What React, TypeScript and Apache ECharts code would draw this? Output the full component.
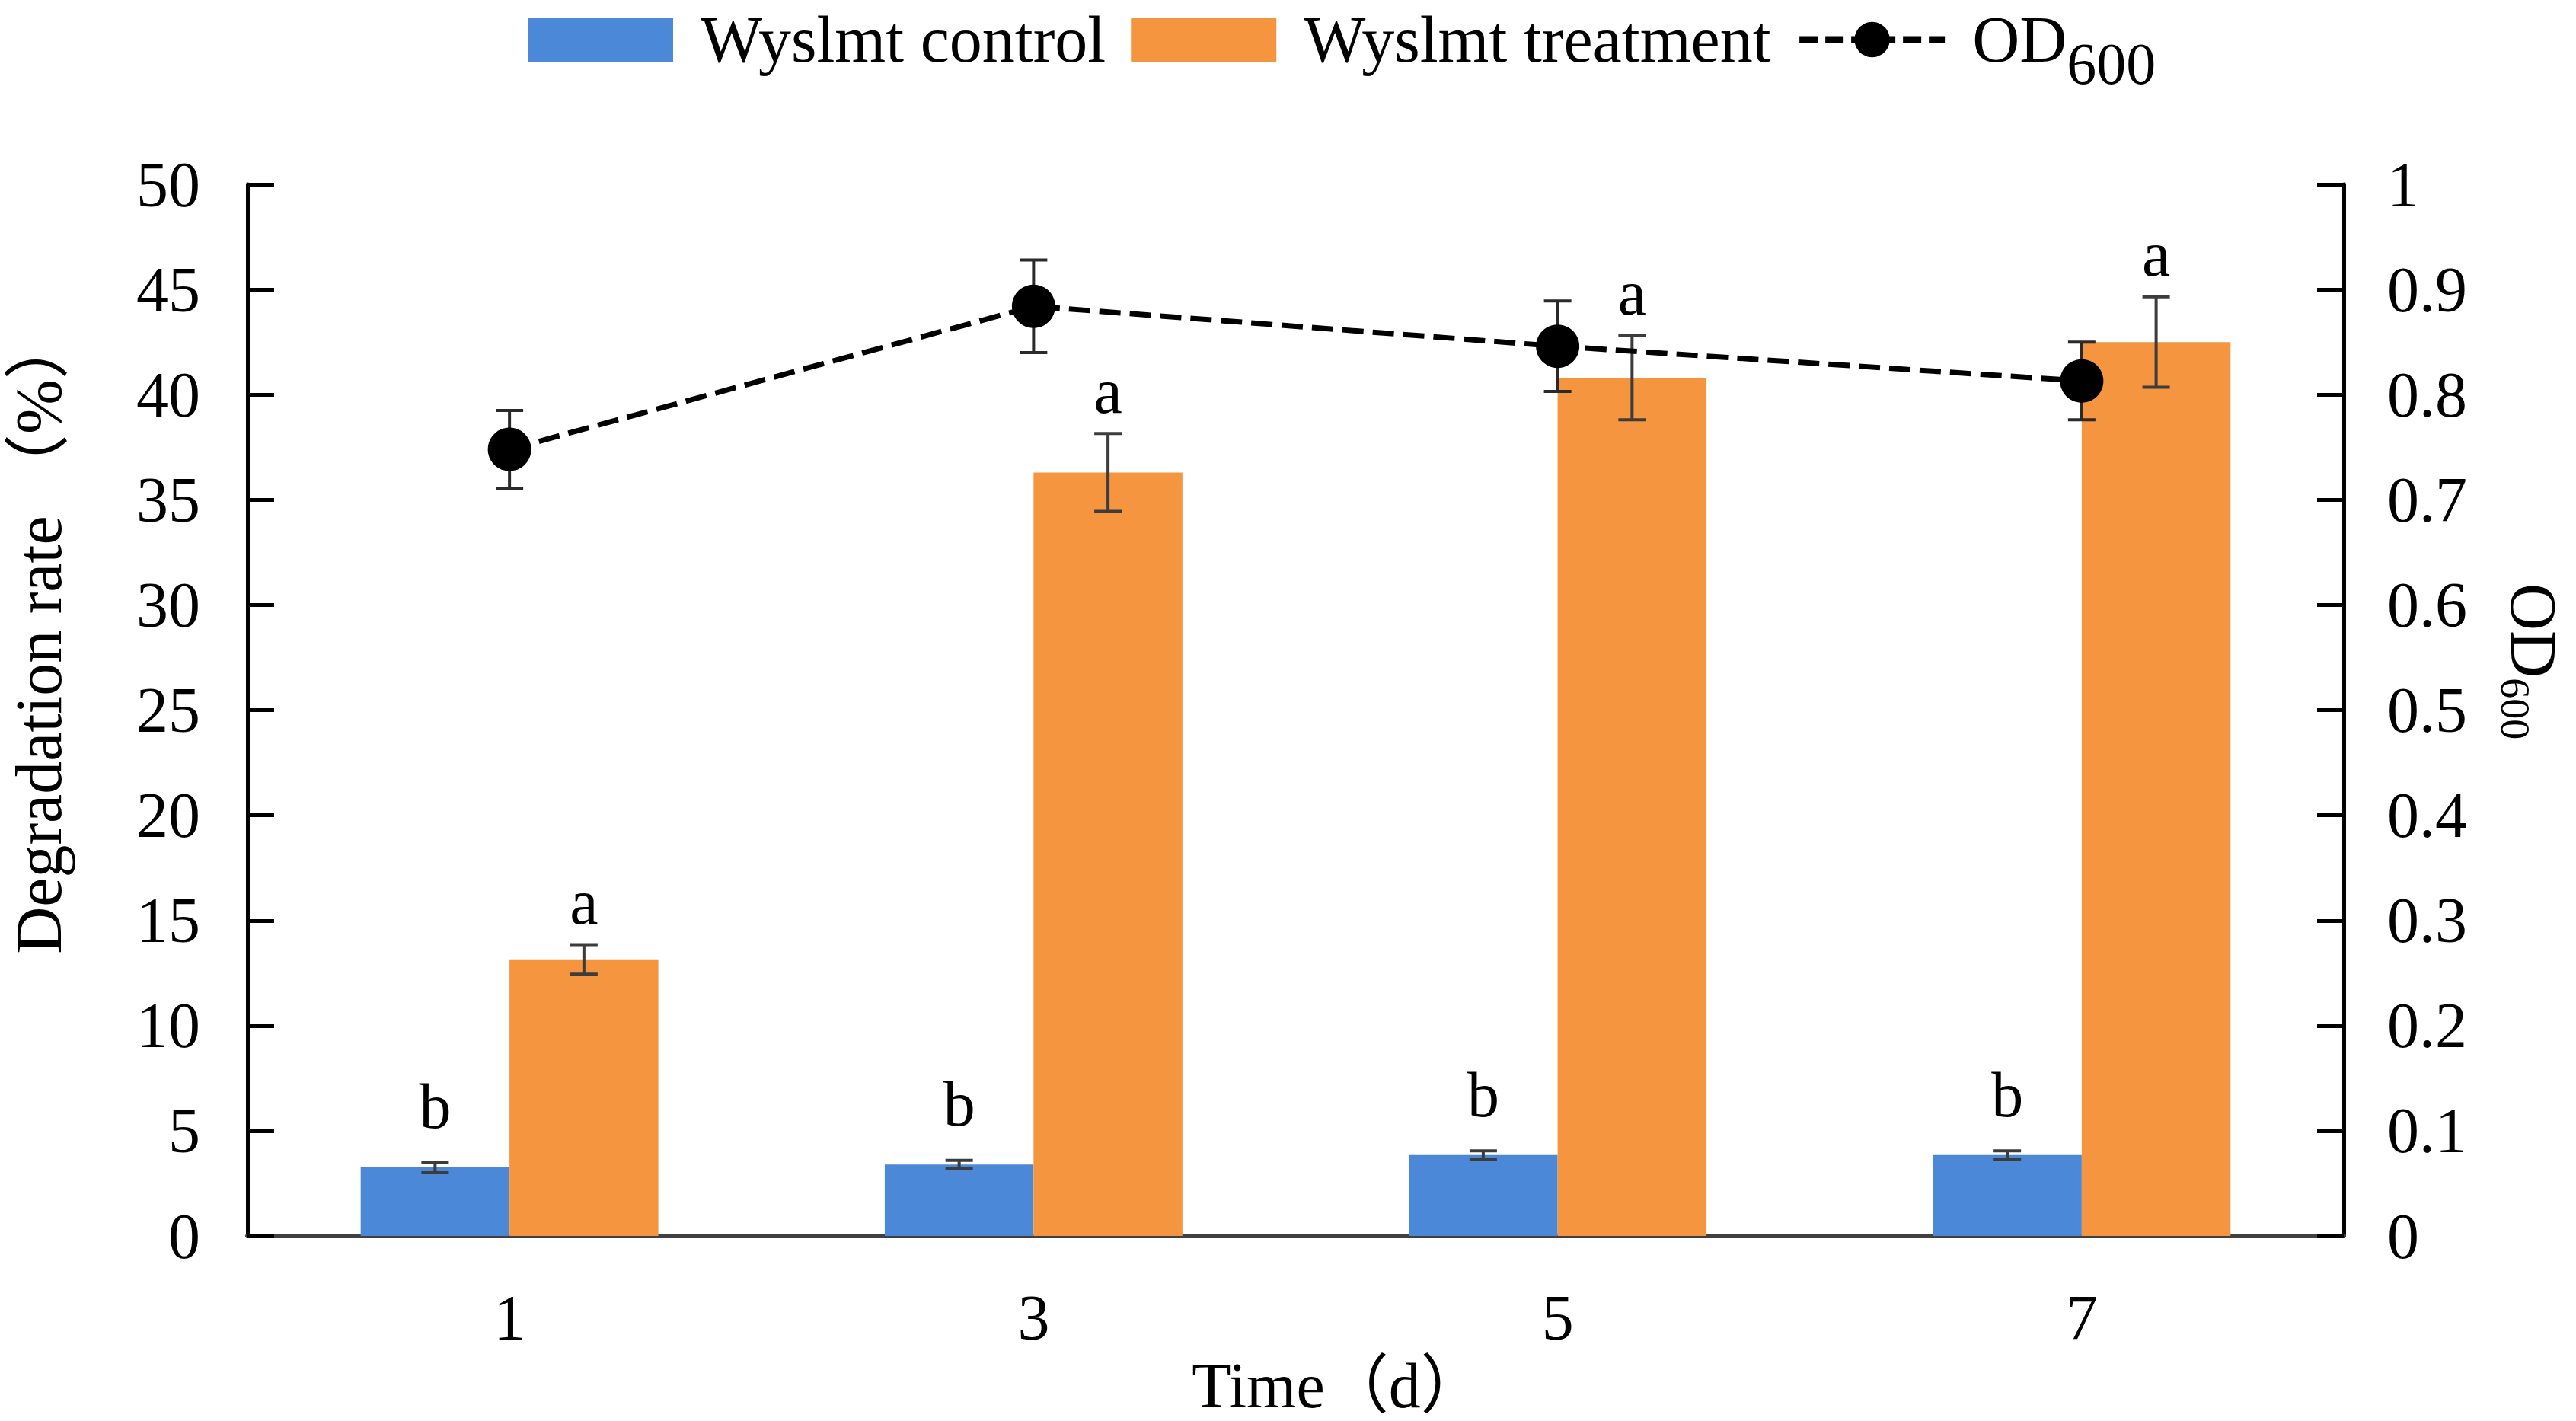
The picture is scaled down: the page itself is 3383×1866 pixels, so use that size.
import React, { useEffect, useRef } from "react";
import * as echarts from "echarts";

// ---- data ----
const days = ["1", "3", "5", "7"];
const controlRate = [3.26, 3.4, 3.85, 3.85];
const controlErr = [0.25, 0.2, 0.2, 0.2];
const treatmentRate = [13.15, 36.3, 40.8, 42.5];
const treatmentErr = [0.7, 1.85, 2.0, 2.15];
const od600 = [0.748, 0.884, 0.846, 0.813];
const od600Err = [0.037, 0.044, 0.043, 0.037];
const controlLetters = ["b", "b", "b", "b"];
const treatmentLetters = ["a", "a", "a", "a"];
const leftTicks = [0, 50, 5];
const rightTicks = [0, 1, 0.1];

const FONT = '"Liberation Serif", "Times New Roman", "Noto Sans CJK SC", serif';
const BAR_RATIO = 0.284;
const BLUE = "#4C88D8";
const ORANGE = "#F5953F";

function errorRenderer(sign: number, letters: string[] | null, letterGap: number, capHalf: number, stroke: string, lw: number) {
  return (params: any, api: any) => {
    const idx = api.value(0);
    const mean = api.value(1);
    const err = api.value(2);
    const band = api.size([1, 0])[0];
    const c = api.coord([idx, mean]);
    const x = c[0] + (sign * band * BAR_RATIO) / 2;
    const top = api.coord([idx, mean + err])[1];
    const bot = api.coord([idx, mean - err])[1];
    const children: any[] = [
      { type: "line", shape: { x1: x, y1: top, x2: x, y2: bot }, style: { stroke, lineWidth: lw } },
      { type: "line", shape: { x1: x - capHalf, y1: top, x2: x + capHalf, y2: top }, style: { stroke, lineWidth: lw } },
      { type: "line", shape: { x1: x - capHalf, y1: bot, x2: x + capHalf, y2: bot }, style: { stroke, lineWidth: lw } },
    ];
    if (letters) {
      children.push({
        type: "text",
        style: {
          text: letters[params.dataIndex],
          x,
          y: top - letterGap,
          fill: "#000",
          fontSize: 84,
          fontFamily: FONT,
          align: "center",
          verticalAlign: "bottom",
        },
      });
    }
    return { type: "group", children };
  };
}

export default function App() {
  const ref = useRef<HTMLDivElement>(null);
  useEffect(() => {
    if (!ref.current) return;
    const chart = echarts.init(ref.current, null, { renderer: "svg" });
    const axisLabelStyle = { color: "#000", fontSize: 84, fontFamily: FONT };
    const option: any = {
      animation: false,
      backgroundColor: "#fff",
      legend: {
        data: [
          { name: "Wyslmt control", icon: "rect" },
          { name: "Wyslmt treatment", icon: "rect" },
          { name: "OD600" },
        ],
        left: 688,
        top: 4,
        itemWidth: 191,
        itemHeight: 58,
        itemGap: 33,
        lineStyle: { color: "#000", width: 9, type: [24, 10] },
        formatter: (name: string) => (name === "OD600" ? "{a|OD}{b|600}" : name),
        textStyle: {
          color: "#000",
          fontSize: 86,
          fontFamily: FONT,
          padding: [0, 0, 0, 31],
          rich: {
            a: { fontSize: 86, fontFamily: FONT, color: "#000", verticalAlign: "middle" },
            b: { fontSize: 78, fontFamily: FONT, color: "#000", verticalAlign: "middle", padding: [62, 0, 0, 0] },
          },
        },
      },
      grid: { left: 317, right: 305, top: 242, bottom: 213, containLabel: false },
      xAxis: {
        type: "category",
        data: days,
        boundaryGap: true,
        name: "Time（d）",
        nameLocation: "middle",
        nameGap: 118,
        nameTextStyle: { ...axisLabelStyle, fontSize: 84, padding: [0, 0, 0, 112] },
        axisLine: { lineStyle: { color: "#404040", width: 6 } },
        axisTick: { inside: true, length: 33, lineStyle: { color: "#222", width: 3 } },
        axisLabel: { ...axisLabelStyle, margin: 65 },
        splitLine: { show: false },
      },
      yAxis: [
        {
          type: "value",
          min: leftTicks[0],
          max: leftTicks[1],
          interval: leftTicks[2],
          name: "Degradation rate （%）",
          nameLocation: "middle",
          nameRotate: 90,
          nameGap: 231,
          nameTextStyle: { ...axisLabelStyle, fontSize: 86, padding: [0, 0, 0, 200] },
          axisLine: { show: true, lineStyle: { color: "#000", width: 5 } },
          axisTick: { show: true, inside: true, length: 35, lineStyle: { color: "#000", width: 5 } },
          axisLabel: { ...axisLabelStyle, margin: 62 },
          splitLine: { show: false },
        },
        {
          type: "value",
          min: rightTicks[0],
          max: rightTicks[1],
          interval: rightTicks[2],
          position: "right",
          name: "{a|OD}{b|600}",
          nameLocation: "middle",
          nameRotate: -90,
          nameGap: 198,
          nameTextStyle: {
            ...axisLabelStyle,
            padding: [0, 128, 0, 0],
            rich: {
              a: { fontSize: 86, fontFamily: FONT, color: "#000", verticalAlign: "middle" },
              b: { fontSize: 54, fontFamily: FONT, color: "#000", verticalAlign: "middle", padding: [48, 0, 0, 0] },
            },
          },
          axisLine: { show: true, lineStyle: { color: "#000", width: 5 } },
          axisTick: { show: true, inside: true, length: 35, lineStyle: { color: "#000", width: 5 } },
          axisLabel: {
            ...axisLabelStyle,
            margin: 57,
            formatter: (v: number) => String(Math.round(v * 10) / 10),
          },
          splitLine: { show: false },
        },
      ],
      series: [
        {
          name: "Wyslmt control",
          type: "bar",
          data: controlRate,
          barWidth: BAR_RATIO * 100 + "%",
          barGap: "0%",
          itemStyle: { color: BLUE },
          z: 2,
        },
        {
          name: "Wyslmt treatment",
          type: "bar",
          data: treatmentRate,
          barWidth: BAR_RATIO * 100 + "%",
          barGap: "0%",
          itemStyle: { color: ORANGE },
          z: 2,
        },
        {
          name: "controlErr",
          type: "custom",
          data: days.map((_, i) => [i, controlRate[i], controlErr[i]]),
          encode: { x: 0, y: 1 },
          renderItem: errorRenderer(-1, controlLetters, 32, 18, "#3c3c3c", 4),
          z: 3,
          silent: true,
        },
        {
          name: "treatmentErr",
          type: "custom",
          data: days.map((_, i) => [i, treatmentRate[i], treatmentErr[i]]),
          encode: { x: 0, y: 1 },
          renderItem: errorRenderer(1, treatmentLetters, 14, 18, "#3c3c3c", 4),
          z: 3,
          silent: true,
        },
        {
          name: "odErr",
          type: "custom",
          yAxisIndex: 1,
          data: days.map((_, i) => [i, od600[i], od600Err[i]]),
          encode: { x: 0, y: 1 },
          renderItem: errorRenderer(0, null, 0, 18, "#2a2a2a", 4),
          z: 4,
          silent: true,
        },
        {
          name: "OD600",
          type: "line",
          yAxisIndex: 1,
          data: od600,
          symbol: "circle",
          symbolSize: 57,
          itemStyle: { color: "#000" },
          lineStyle: { color: "#000", width: 7, type: [28, 12] },
          z: 5,
        },
      ],
    };
    chart.setOption(option);
    return () => chart.dispose();
  }, []);
  return (
    <div
      ref={ref}
      style={{ position: "fixed", left: 0, top: 0, width: 3383, height: 1866, background: "#fff" }}
    />
  );
}
